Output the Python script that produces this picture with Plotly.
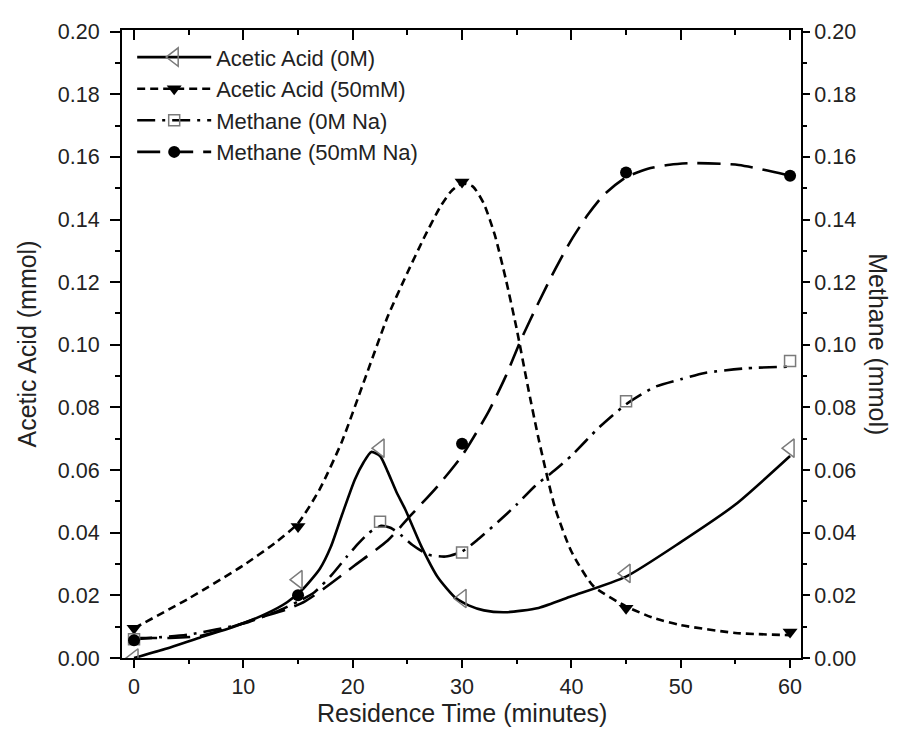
import plotly.graph_objects as go

# ---- measured points ----
t_aa0 = [0, 15, 22.5, 30, 45, 60]
aa0 = [0.000, 0.025, 0.067, 0.019, 0.027, 0.067]

t_aa50 = [0, 15, 30, 45, 60]
aa50 = [0.0095, 0.042, 0.152, 0.0159, 0.0083]

t_me0 = [0, 22.5, 30, 45, 60]
me0 = [0.006, 0.0435, 0.0337, 0.082, 0.0948]

t_me50 = [0, 15, 30, 45, 60]
me50 = [0.0057, 0.020, 0.0684, 0.155, 0.154]

# ---- fitted curves ----
cx_aa0 = [0, 3, 6, 9, 12, 14, 15.5, 17, 18, 19, 20.2, 21, 21.7, 22.5, 23.2, 24, 24.8, 26.3, 27.8, 29.4, 30.6, 32, 34, 37, 40, 45, 50, 55, 60]
cy_aa0 = [0.000, 0.003, 0.0065, 0.0098, 0.014, 0.0178, 0.0222, 0.0285, 0.0355, 0.0455, 0.057, 0.0625, 0.0658, 0.0645, 0.0595, 0.053, 0.0475, 0.0355, 0.0257, 0.0192, 0.0168, 0.0152, 0.0146, 0.016, 0.0197, 0.026, 0.037, 0.049, 0.0645]

cx_aa50 = [0, 5, 10, 13, 15, 17, 19, 21, 23.2, 25, 26.5, 28, 29, 30, 31, 32, 33, 34, 35, 36, 37, 38.5, 40, 42, 45, 47.5, 50, 55, 60]
cy_aa50 = [0.0095, 0.019, 0.0296, 0.037, 0.043, 0.054, 0.069, 0.088, 0.109, 0.123, 0.134, 0.144, 0.149, 0.1515, 0.1505, 0.145, 0.135, 0.121, 0.105, 0.087, 0.070, 0.048, 0.034, 0.023, 0.0165, 0.0128, 0.0105, 0.008, 0.0073]

cx_me0 = [0, 5, 10, 13, 15, 16.5, 18, 19.5, 20.5, 21.5, 22.6, 23.5, 24.5, 25.5, 26.9, 28.5, 30, 31.5, 33.3, 35, 36.7, 38.5, 40, 42.5, 45, 47.6, 50, 52.2, 56, 60]
cy_me0 = [0.006, 0.0075, 0.011, 0.0148, 0.018, 0.021, 0.0262, 0.0325, 0.0365, 0.040, 0.0422, 0.0415, 0.039, 0.036, 0.033, 0.0324, 0.034, 0.038, 0.0435, 0.049, 0.055, 0.060, 0.0646, 0.0735, 0.081, 0.0865, 0.089, 0.091, 0.0925, 0.093]

cx_me50 = [0, 3.3, 6, 8.6, 11.3, 13.8, 15.6, 17.5, 20.2, 23.2, 25.3, 27.8, 30, 32.4, 34, 35.4, 37, 38.5, 40, 41.5, 43, 45, 47, 49, 51, 55.3, 60]
cy_me50 = [0.0064, 0.0064, 0.007, 0.0095, 0.0127, 0.0153, 0.018, 0.0225, 0.0296, 0.0375, 0.0455, 0.055, 0.0646, 0.0785, 0.090, 0.1017, 0.1135, 0.124, 0.1335, 0.1415, 0.148, 0.1535, 0.1562, 0.1575, 0.158, 0.1574, 0.154]

names = ["Acetic Acid (0M)", "Acetic Acid (50mM)", "Methane (0M Na)", "Methane (50mM Na)"]
x_ticks = [0, 10, 20, 30, 40, 50, 60]
y_ticks = [0.00, 0.02, 0.04, 0.06, 0.08, 0.10, 0.12, 0.14, 0.16, 0.18, 0.20]

GRAY = "#7a7a7a"
FONT = "Liberation Sans, Arial, sans-serif"
TXT = "#222"

series = [
    dict(cx=cx_aa0, cy=cy_aa0, px=t_aa0, py=aa0, dash="solid", yaxis="y",
         marker=dict(symbol="triangle-left-open", size=16, color=GRAY, line=dict(width=1.5, color=GRAY))),
    dict(cx=cx_aa50, cy=cy_aa50, px=t_aa50, py=aa50, dash="8px,5px", yaxis="y",
         marker=dict(symbol="triangle-down", size=13, color="black")),
    dict(cx=cx_me0, cy=cy_me0, px=t_me0, py=me0, dash="18px,7px,3px,7px", yaxis="y2",
         marker=dict(symbol="square-open", size=11, color=GRAY, line=dict(width=1.5, color=GRAY))),
    dict(cx=cx_me50, cy=cy_me50, px=t_me50, py=me50, dash="23px,10px", yaxis="y2",
         marker=dict(symbol="circle", size=12, color="black")),
]

fig = go.Figure()
for s in series:
    fig.add_trace(go.Scatter(x=s["cx"], y=s["cy"], mode="lines", yaxis=s["yaxis"],
                             line=dict(color="black", width=2.6, dash=s["dash"], shape="spline", smoothing=0.6),
                             showlegend=False, hoverinfo="skip"))
for i, s in enumerate(series):
    xs, ys = [], []
    for a, b in zip(s["px"], s["py"]):
        xs += [a, None]
        ys += [b, None]
    fig.add_trace(go.Scatter(x=xs, y=ys, mode="lines+markers", yaxis=s["yaxis"], name=names[i],
                             connectgaps=False, legendgroup=names[i],
                             line=dict(color="black", width=2.6, dash=s["dash"]),
                             marker=s["marker"]))

# invisible trace to activate top axis
fig.add_trace(go.Scatter(x=[None], y=[None], xaxis="x2", showlegend=False))

axis_common = dict(showline=True, linecolor="black", linewidth=2, showgrid=False, zeroline=False,
                   tickcolor="black", tickwidth=2,
                   tickfont=dict(family=FONT, size=21.5, color=TXT))

fig.update_layout(
    width=905, height=743,
    margin=dict(l=114, r=112, t=20, b=93),
    plot_bgcolor="white", paper_bgcolor="white",
    font=dict(family=FONT, color=TXT),
    xaxis=dict(range=[-1.1, 61], tickvals=x_ticks, ticks="outside", ticklen=8,
               minor=dict(ticks="outside", ticklen=4, dtick=5, tick0=0, tickcolor="black", tickwidth=2),
               **axis_common),
    xaxis2=dict(range=[-1.1, 61], overlaying="x", side="top", tickvals=x_ticks, ticks="inside", ticklen=10,
                showticklabels=False,
                minor=dict(ticks="inside", ticklen=5, dtick=5, tick0=0, tickcolor="black", tickwidth=2),
                **axis_common),
    yaxis=dict(range=[0, 0.2005], tickvals=y_ticks, tickformat=".2f", ticks="outside", ticklen=10,
               ticklabelstandoff=6,
               minor=dict(ticks="outside", ticklen=5, dtick=0.01, tick0=0, tickcolor="black", tickwidth=2),
               title=dict(text="Acetic Acid (mmol)", font=dict(family=FONT, size=25, color=TXT), standoff=14),
               **axis_common),
    yaxis2=dict(range=[0, 0.2005], overlaying="y", side="right", tickvals=y_ticks, tickformat=".2f",
                ticks="outside", ticklen=7,
                minor=dict(ticks="outside", ticklen=4, dtick=0.01, tick0=0, tickcolor="black", tickwidth=2),
                **axis_common),
    legend=dict(x=0.015, y=0.99, xanchor="left", yanchor="top", bgcolor="rgba(0,0,0,0)",
                font=dict(family=FONT, size=22, color=TXT), itemwidth=74, tracegroupgap=0),
    annotations=[
        dict(text="Methane (mmol)", xref="paper", yref="paper", x=1.113, y=0.5,
             xanchor="center", yanchor="middle", textangle=90, showarrow=False,
             font=dict(family=FONT, size=25, color=TXT)),
        dict(text="Residence Time (minutes)", xref="paper", yref="paper", x=0.5, y=-0.087,
             xanchor="center", yanchor="middle", showarrow=False,
             font=dict(family=FONT, size=25, color=TXT)),
    ],
)

fig.write_html("out.html")
